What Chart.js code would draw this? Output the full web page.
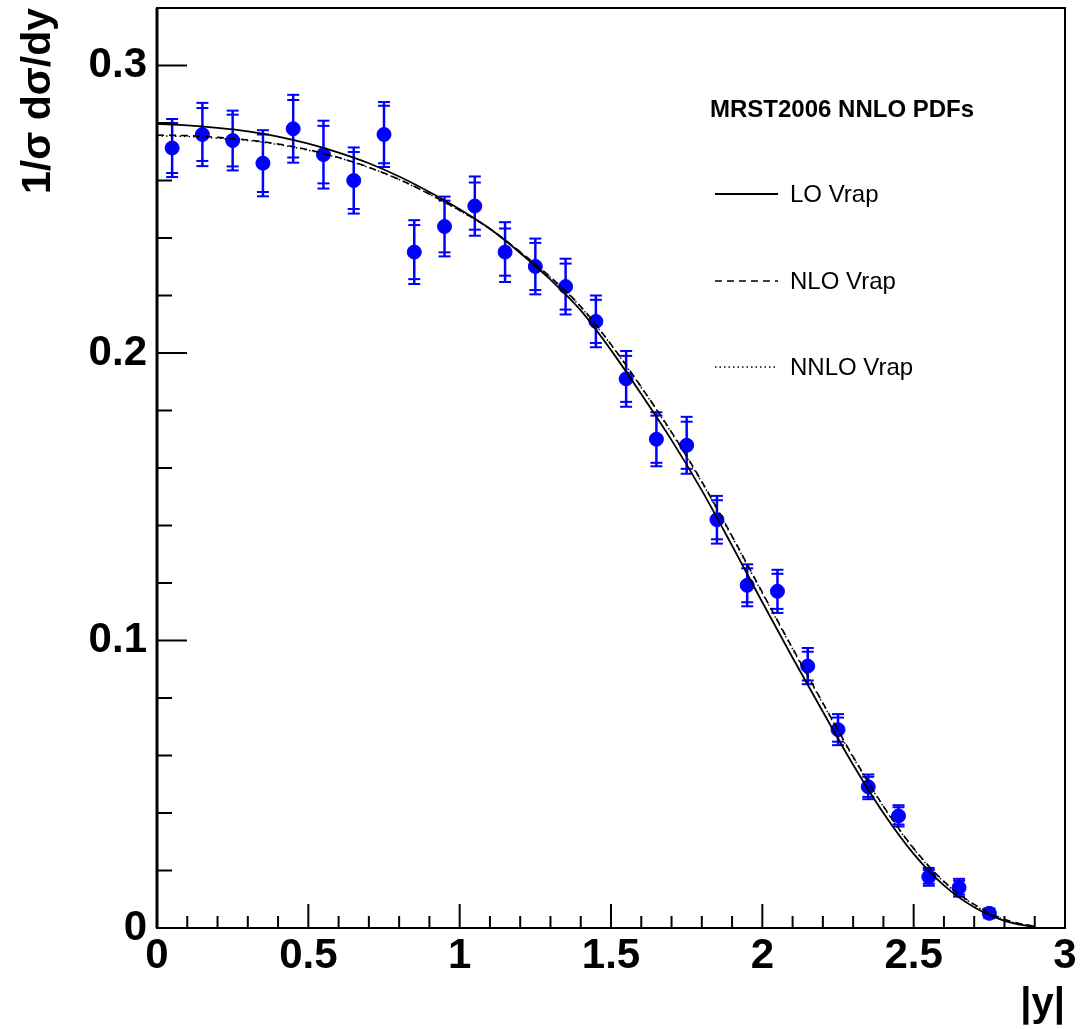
<!DOCTYPE html>
<html>
<head>
<meta charset="utf-8">
<title>1/sigma dsigma/dy vs |y|</title>
<script src="https://cdn.jsdelivr.net/npm/chart.js@4.4.1/dist/chart.umd.min.js"></script>
<style>
  html, body { margin: 0; padding: 0; background: #fff; }
  #wrap { width: 1088px; height: 1029px; }
</style>
</head>
<body>
<div id="wrap"><canvas id="rap-chart"></canvas></div>
<script>
// measured points (bin centres in |y|)
const binCentres = [0.05, 0.15, 0.25, 0.35, 0.45, 0.55, 0.65, 0.75, 0.85, 0.95,
  1.05, 1.15, 1.25, 1.35, 1.45, 1.55, 1.65, 1.75, 1.85, 1.95,
  2.05, 2.15, 2.25, 2.35, 2.45, 2.55, 2.65, 2.75];
const measured = [0.2713, 0.2760, 0.2739, 0.2660, 0.2780, 0.2690, 0.2600, 0.2760, 0.2351, 0.2440,
  0.2511, 0.2351, 0.2301, 0.2231, 0.2110, 0.1910, 0.1700, 0.1679, 0.1420, 0.1192,
  0.1171, 0.0911, 0.0690, 0.0491, 0.0390, 0.0178, 0.0140, 0.0051];
const statErr = [0.0087, 0.0092, 0.0090, 0.0100, 0.0100, 0.0100, 0.0099, 0.0100, 0.0094, 0.0090,
  0.0082, 0.0082, 0.0082, 0.0080, 0.0075, 0.0080, 0.0082, 0.0082, 0.0068, 0.0059,
  0.0061, 0.0050, 0.0042, 0.0035, 0.0030, 0.0024, 0.0024, 0.0012];
const totErr = [0.0101, 0.0110, 0.0104, 0.0115, 0.0118, 0.0118, 0.0115, 0.0113, 0.0111, 0.0104,
  0.0103, 0.0104, 0.0097, 0.0097, 0.0090, 0.0097, 0.0094, 0.0099, 0.0083, 0.0073,
  0.0075, 0.0063, 0.0054, 0.0043, 0.0037, 0.0031, 0.0031, 0.0017];

// Vrap predictions
const curveY = [0, 0.1, 0.2, 0.3, 0.4, 0.5, 0.6, 0.7, 0.8, 0.9,
  1.0, 1.1, 1.2, 1.3, 1.4, 1.5, 1.6, 1.7, 1.8, 1.9,
  2.0, 2.1, 2.2, 2.3, 2.4, 2.5, 2.6, 2.7, 2.8, 2.9];
const loVrap = [0.2797, 0.2792, 0.2783, 0.2771, 0.2753, 0.2728, 0.2697, 0.2660, 0.2614, 0.2560,
  0.2500, 0.2432, 0.2348, 0.2255, 0.2148, 0.2010, 0.1857, 0.1697, 0.1522, 0.1330,
  0.1133, 0.0940, 0.0752, 0.0568, 0.0400, 0.0258, 0.0148, 0.0072, 0.0025, 0.0003];
const nloVrap = [0.2758, 0.2756, 0.2750, 0.2741, 0.2727, 0.2707, 0.2680, 0.2646, 0.2604, 0.2553,
  0.2496, 0.2432, 0.2352, 0.2264, 0.2162, 0.2030, 0.1882, 0.1725, 0.1553, 0.1363,
  0.1167, 0.0973, 0.0783, 0.0596, 0.0424, 0.0277, 0.0162, 0.0082, 0.0030, 0.0005];
const nnloVrap = [0.2755, 0.2753, 0.2747, 0.2739, 0.2725, 0.2705, 0.2679, 0.2645, 0.2603, 0.2552,
  0.2495, 0.2431, 0.2351, 0.2263, 0.2160, 0.2028, 0.1880, 0.1722, 0.1550, 0.1360,
  0.1164, 0.0970, 0.0780, 0.0593, 0.0422, 0.0275, 0.0160, 0.0080, 0.0029, 0.0004];

const legendTitle = 'MRST2006 NNLO PDFs';
const BLUE = '#0000ff';
const FONT = '"Liberation Sans", Arial, Helvetica, sans-serif';

const isMultiple = (v, step) => Math.abs(v / step - Math.round(v / step)) < 1e-6;
const fmt = v => String(Math.round(v * 100) / 100);

const toXY = (xs, ys) => xs.map((x, i) => ({ x, y: ys[i] }));

const errorBars = {
  id: 'errorBars',
  beforeDatasetsDraw(chart) {
    const { ctx, scales: { x, y } } = chart;
    ctx.save();
    ctx.strokeStyle = BLUE;
    binCentres.forEach((c, i) => {
      const px = x.getPixelForValue(c);
      const v = measured[i];
      ctx.lineWidth = 2.5;
      ctx.beginPath();
      ctx.moveTo(px, y.getPixelForValue(v - totErr[i]));
      ctx.lineTo(px, y.getPixelForValue(v + totErr[i]));
      ctx.stroke();
      ctx.lineWidth = 2;
      [statErr[i], totErr[i]].forEach(e => {
        [v - e, v + e].forEach(val => {
          const py = y.getPixelForValue(val);
          ctx.beginPath();
          ctx.moveTo(px - 6, py);
          ctx.lineTo(px + 6, py);
          ctx.stroke();
        });
      });
    });
    ctx.restore();
  }
};

const frameTicks = {
  id: 'frameTicks',
  afterDraw(chart) {
    const { ctx, chartArea: a, scales: { x, y } } = chart;
    ctx.save();
    ctx.strokeStyle = '#000';
    ctx.lineWidth = 2;
    x.ticks.forEach(t => {
      const px = x.getPixelForValue(t.value);
      const len = isMultiple(t.value, 0.5) ? 24 : 12;
      ctx.beginPath();
      ctx.moveTo(px, a.bottom);
      ctx.lineTo(px, a.bottom - len);
      ctx.stroke();
    });
    y.ticks.forEach(t => {
      const py = y.getPixelForValue(t.value);
      const len = isMultiple(t.value, 0.1) ? 30 : 15;
      ctx.beginPath();
      ctx.moveTo(a.left, py);
      ctx.lineTo(a.left + len, py);
      ctx.stroke();
    });
    ctx.strokeRect(a.left, a.top, a.right - a.left, a.bottom - a.top);
    ctx.lineWidth = 3;
    ctx.beginPath();
    ctx.moveTo(a.left, a.top);
    ctx.lineTo(a.left, a.bottom);
    ctx.stroke();

    // legend
    ctx.fillStyle = '#000';
    ctx.textBaseline = 'middle';
    ctx.textAlign = 'left';
    ctx.font = 'bold 24px ' + FONT;
    ctx.fillText(legendTitle, 710, 110);
    ctx.font = '24px ' + FONT;
    const rows = [194, 281, 367];
    chart.data.datasets.slice(0, 3).forEach((ds, i) => {
      ctx.save();
      ctx.lineWidth = ds.borderWidth;
      ctx.setLineDash(ds.borderDash || []);
      ctx.beginPath();
      ctx.moveTo(715, rows[i]);
      ctx.lineTo(778, rows[i]);
      ctx.stroke();
      ctx.restore();
      ctx.fillText(ds.label, 790, rows[i] + 1);
    });
    ctx.restore();
  }
};

const curve = (label, ys, dash, width) => ({
  label,
  data: toXY(curveY, ys),
  showLine: true,
  borderColor: '#000',
  borderWidth: width,
  borderDash: dash,
  pointRadius: 0,
  fill: false,
  cubicInterpolationMode: 'monotone'
});

new Chart(document.getElementById('rap-chart'), {
  type: 'scatter',
  data: {
    datasets: [
      curve('LO Vrap', loVrap, [], 1.8),
      curve('NLO Vrap', nloVrap, [7, 5], 1.6),
      curve('NNLO Vrap', nnloVrap, [1.5, 3], 1.4),
      {
        label: 'data',
        data: toXY(binCentres, measured),
        backgroundColor: BLUE,
        borderColor: BLUE,
        pointRadius: 7,
        pointHoverRadius: 7,
        showLine: false
      }
    ]
  },
  options: {
    responsive: true,
    maintainAspectRatio: false,
    animation: false,
    events: [],
    layout: { padding: { top: 8, right: 23, left: 0, bottom: 0 } },
    plugins: { legend: { display: false }, tooltip: { enabled: false } },
    scales: {
      x: {
        type: 'linear',
        min: 0,
        max: 3,
        grid: { display: false, drawTicks: false },
        border: { display: false },
        ticks: {
          stepSize: 0.1,
          autoSkip: false,
          maxRotation: 0,
          padding: 3,
          color: '#000',
          font: { family: FONT, size: 42, weight: 'bold' },
          callback: v => isMultiple(v, 0.5) ? fmt(v) : ''
        },
        title: {
          display: true,
          text: '|y|',
          align: 'end',
          color: '#000',
          padding: { top: 0, bottom: 0 },
          font: { family: FONT, size: 40, weight: 'bold' }
        },
        afterFit: s => { s.height = 101; s.paddingLeft = 0; s.paddingRight = 0; }
      },
      y: {
        type: 'linear',
        min: 0,
        max: 0.32,
        grid: { display: false, drawTicks: false },
        border: { display: false },
        ticks: {
          stepSize: 0.02,
          autoSkip: false,
          padding: 10,
          color: '#000',
          font: { family: FONT, size: 42, weight: 'bold' },
          callback: v => isMultiple(v, 0.1) ? fmt(v) : ''
        },
        title: {
          display: true,
          text: '1/σ dσ/dy',
          align: 'end',
          color: '#000',
          padding: { top: 14, bottom: 0 },
          font: { family: FONT, size: 41, weight: 'bold' }
        },
        afterFit: s => { s.width = 157; s.paddingTop = 0; s.paddingBottom = 0; }
      }
    }
  },
  plugins: [errorBars, frameTicks]
});
</script>
</body>
</html>
